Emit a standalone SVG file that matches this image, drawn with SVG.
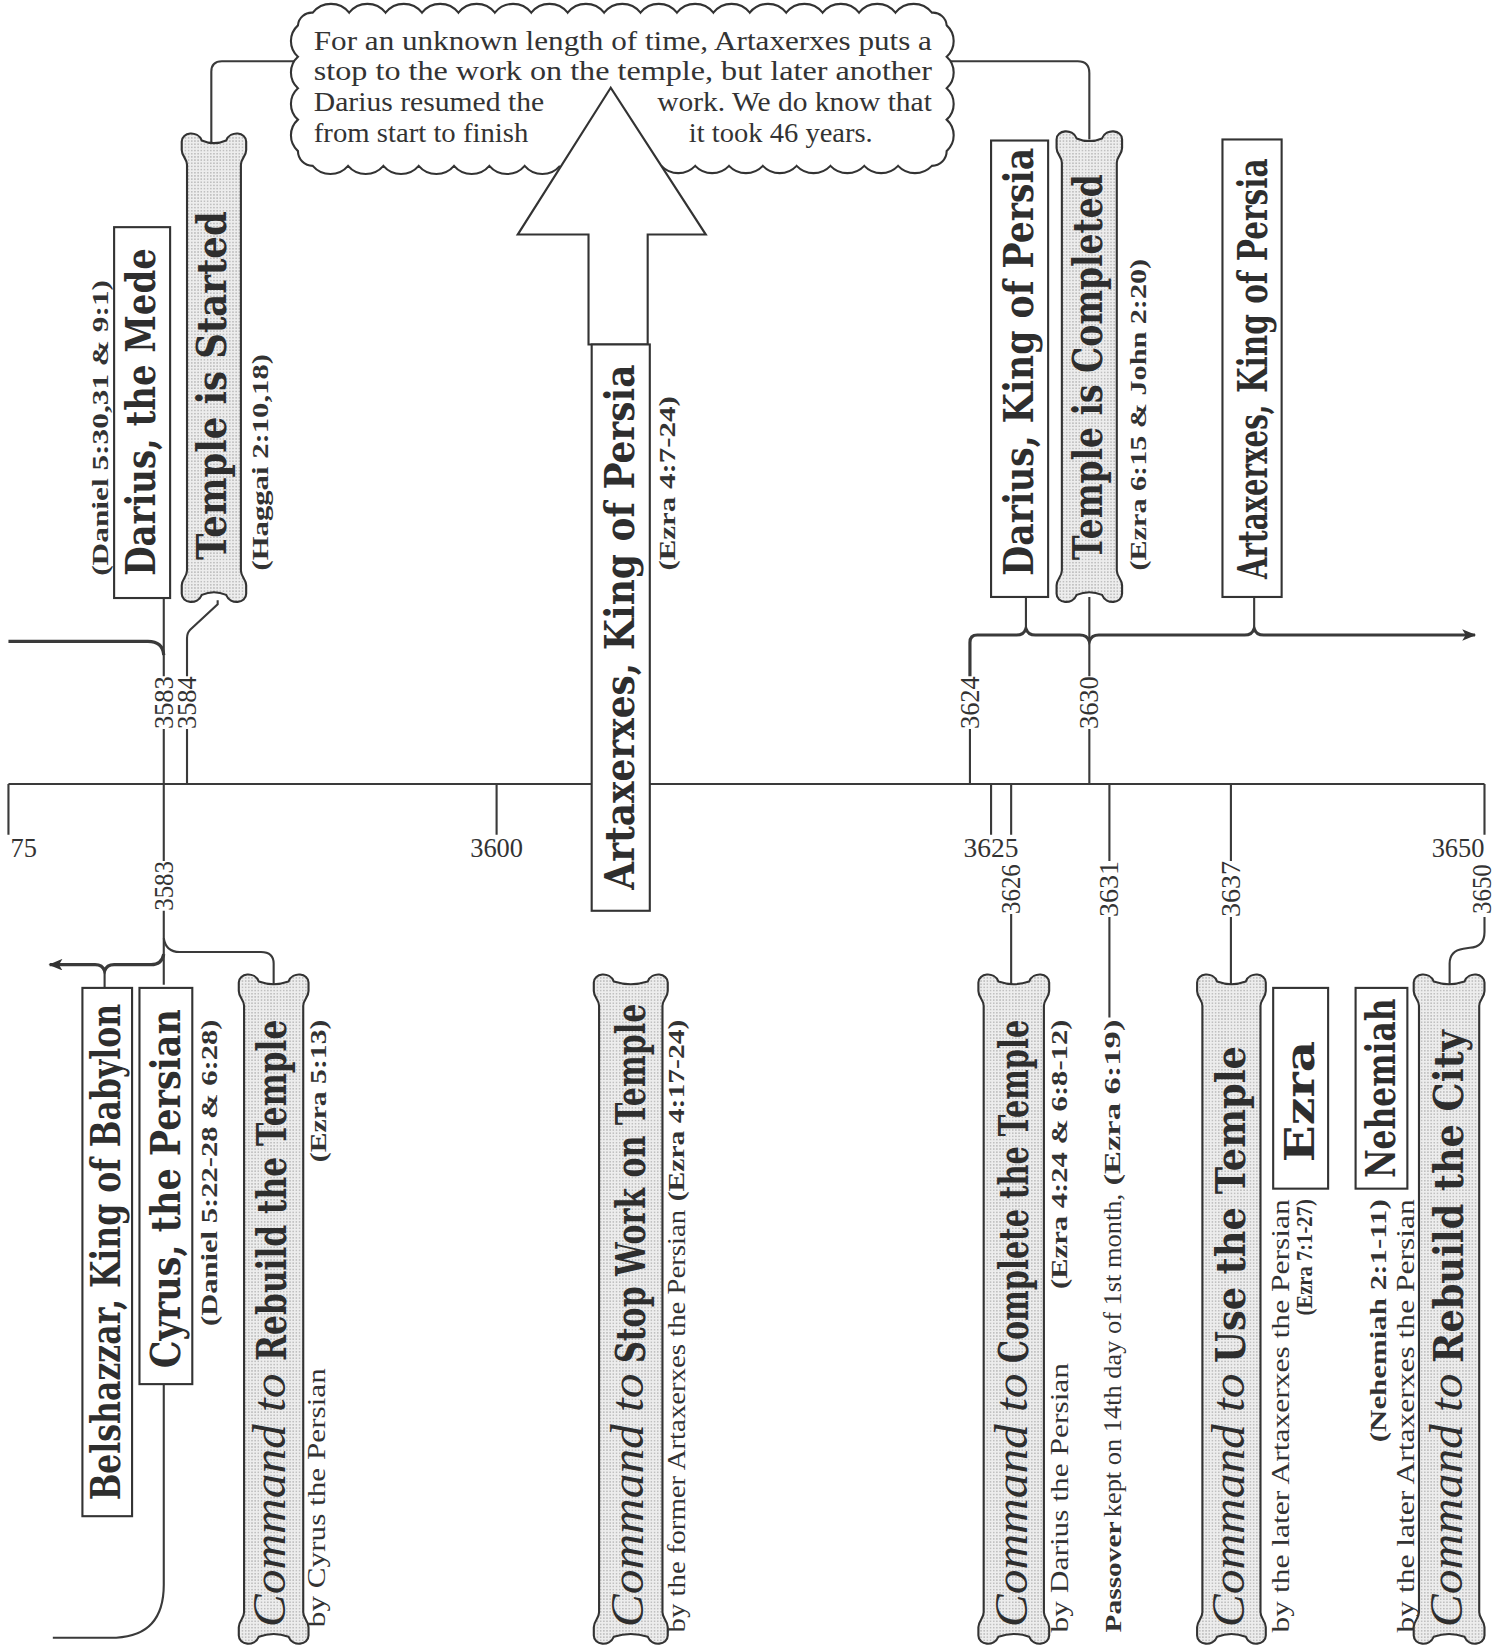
<svg xmlns="http://www.w3.org/2000/svg" width="1494" height="1648" viewBox="0 0 1494 1648">
<defs>
<pattern id="dots" width="3" height="3" patternUnits="userSpaceOnUse"><rect width="3" height="3" fill="#ededed"/><rect x="1" y="1" width="1" height="1" fill="#8a8a8a"/></pattern>
<marker id="ah" viewBox="0 0 12 10" refX="11" refY="5" markerWidth="14" markerHeight="11" markerUnits="userSpaceOnUse" orient="auto-start-reverse"><path d="M0,0 L12,5 L0,10 L3,5 z" fill="#333"/></marker>
<style>
.ln{fill:none;stroke:#3a3a3a;stroke-width:2}
.thk{stroke-width:3}
.box{fill:#fff;stroke:#333;stroke-width:2}
.scr{fill:url(#dots);stroke:#333;stroke-width:2}
.h{font-family:"DejaVu Serif",serif;font-weight:bold;font-size:38px;fill:#2e2e2e}
.it{font-family:"Liberation Serif",serif;font-style:italic;font-size:44px;fill:#2e2e2e}
.ref{font-family:"Liberation Serif",serif;font-weight:bold;font-size:21px;fill:#333}
.by{font-family:"Liberation Serif",serif;font-size:23px;fill:#333}
.num{font-family:"Liberation Serif",serif;font-size:25px;fill:#333}
.cl{font-family:"Liberation Serif",serif;font-size:25px;fill:#333}
</style>
</defs>
<rect width="1494" height="1648" fill="#fff"/>
<g transform="scale(1.05658)">
<g id="connectors">
<path class="ln" d="M8 742 H1405"/>
<path class="ln" d="M8 742 V790 M470 742 V790 M938 742 V790 M1405 742 V790"/>
<path class="ln thk" d="M8 607 H140 Q154 607 155 620"/>
<path class="ln" d="M155 566 V640 M155 690 V815 M155 862 V932"/>
<path class="ln" d="M206 568 V572 L180 596 Q177 599 177 604 V640 M177 690 V742"/>
<path class="ln thk" marker-start="url(#ah)" d="M47 913 H90 Q97 913 99 919 Q101 913 108 913 H143 Q153 913 155 903"/>
<path class="ln" d="M99 919 V935"/>
<path class="ln" d="M155 888 Q157 901 170 901 H247 Q259 901 259 912 V932"/>
<path class="ln" d="M155 1310 V1500 Q155 1548 110 1550 H50"/>
<path class="ln" d="M285 58 H210 Q200 58 200 68 V135"/>
<path class="ln" d="M893 58 H1020 Q1031 58 1031 69 V132"/>
<path class="ln thk" marker-end="url(#ah)" d="M918 640 V608 Q918 601 925 601 H962 Q969 601 971 595 Q973 601 980 601 H1022 Q1029 601 1031 607 Q1033 601 1040 601 H1178 Q1185 601 1187 595 Q1189 601 1196 601 H1396"/>
<path class="ln" d="M918 690 V742 M971 566 V596 M1187 566 V596 M1031 565 V640 M1031 690 V742"/>
<path class="ln" d="M957 742 V790 M957 865 V932"/>
<path class="ln" d="M1050 742 V815 M1050 868 V963"/>
<path class="ln" d="M1165 742 V815 M1165 868 V932"/>
<path class="ln" d="M1405 868 V882 Q1405 896 1391 897 L1385 898 Q1372 900 1372 912 V932"/>
</g>
<g id="cloud">
<path fill="#fff" stroke="#333" stroke-width="2" d="M530 157 a22 22 0 0 1 -33.43 0 a22 22 0 0 1 -33.43 0 a22 22 0 0 1 -33.43 0 a22 22 0 0 1 -33.43 0 a22 22 0 0 1 -33.43 0 a22 22 0 0 1 -33.43 0 a22 22 0 0 1 -33.43 0 a14 14 0 0 1 -14 -14 a20 20 0 0 1 0 -29.75 a20 20 0 0 1 0 -29.75 a20 20 0 0 1 0 -29.75 a20 20 0 0 1 0 -29.75 a13 13 0 0 1 14 -12 a22 22 0 0 1 34.47 0 a22 22 0 0 1 34.47 0 a22 22 0 0 1 34.47 0 a22 22 0 0 1 34.47 0 a22 22 0 0 1 34.47 0 a22 22 0 0 1 34.47 0 a22 22 0 0 1 34.47 0 a22 22 0 0 1 34.47 0 a22 22 0 0 1 34.47 0 a22 22 0 0 1 34.47 0 a22 22 0 0 1 34.47 0 a22 22 0 0 1 34.47 0 a22 22 0 0 1 34.47 0 a22 22 0 0 1 34.47 0 a22 22 0 0 1 34.47 0 a22 22 0 0 1 34.47 0 a22 22 0 0 1 34.47 0 a13 13 0 0 1 14 12 a20 20 0 0 1 0 29.75 a20 20 0 0 1 0 29.75 a20 20 0 0 1 0 29.75 a20 20 0 0 1 0 29.75 a14 14 0 0 1 -14 14 a22 22 0 0 1 -32 0 a22 22 0 0 1 -32 0 a22 22 0 0 1 -32 0 a22 22 0 0 1 -32 0 a22 22 0 0 1 -32 0 a22 22 0 0 1 -32 0 a22 22 0 0 1 -32 0 a22 22 0 0 1 -32 0"/>
<path fill="#fff" stroke="#333" stroke-width="2" stroke-linejoin="miter" d="M578 83 L490 222 L557 222 L557 326 L613 326 L613 222 L668 222 Z"/>
<text class="cl" x="297" y="47" textLength="585" lengthAdjust="spacingAndGlyphs">For an unknown length of time, Artaxerxes puts a</text>
<text class="cl" x="297" y="76" textLength="585" lengthAdjust="spacingAndGlyphs">stop to the work on the temple, but later another</text>
<text class="cl" x="297" y="105" textLength="218" lengthAdjust="spacingAndGlyphs">Darius resumed the</text>
<text class="cl" x="622" y="105" textLength="260" lengthAdjust="spacingAndGlyphs">work.  We do know that</text>
<text class="cl" x="297" y="134" textLength="203" lengthAdjust="spacingAndGlyphs">from start to finish</text>
<text class="cl" x="652" y="134" textLength="174" lengthAdjust="spacingAndGlyphs">it took 46 years.</text>
</g>
<g id="axis-labels">
<text class="num" x="10" y="811" textLength="25" lengthAdjust="spacingAndGlyphs">75</text>
<text class="num" x="445" y="811" textLength="50" lengthAdjust="spacingAndGlyphs">3600</text>
<text class="num" x="912" y="811" textLength="52" lengthAdjust="spacingAndGlyphs">3625</text>
<text class="num" x="1355" y="811" textLength="50" lengthAdjust="spacingAndGlyphs">3650</text>
<text class="num" transform="translate(163.5,690) rotate(-90)" textLength="50" lengthAdjust="spacingAndGlyphs">3583</text>
<text class="num" transform="translate(185.5,690) rotate(-90)" textLength="50" lengthAdjust="spacingAndGlyphs">3584</text>
<text class="num" transform="translate(926.5,690) rotate(-90)" textLength="50" lengthAdjust="spacingAndGlyphs">3624</text>
<text class="num" transform="translate(1039.5,690) rotate(-90)" textLength="50" lengthAdjust="spacingAndGlyphs">3630</text>
<text class="num" transform="translate(163.5,862) rotate(-90)" textLength="47" lengthAdjust="spacingAndGlyphs">3583</text>
<text class="num" transform="translate(965.5,865) rotate(-90)" textLength="47" lengthAdjust="spacingAndGlyphs">3626</text>
<text class="num" transform="translate(1058.5,868) rotate(-90)" textLength="53" lengthAdjust="spacingAndGlyphs">3631</text>
<text class="num" transform="translate(1173.5,868) rotate(-90)" textLength="53" lengthAdjust="spacingAndGlyphs">3637</text>
<text class="num" transform="translate(1411,865) rotate(-90)" textLength="47" lengthAdjust="spacingAndGlyphs">3650</text>
</g>
<g id="darius-mede">
<rect class="box" x="108" y="215" width="53" height="351"/>
<text class="h" transform="translate(147,545) rotate(-90)" textLength="310" lengthAdjust="spacingAndGlyphs">Darius, the Mede</text>
<text class="ref" transform="translate(102,545) rotate(-90)" textLength="280" lengthAdjust="spacingAndGlyphs">(Daniel 5:30,31 &amp; 9:1)</text>
</g>
<g id="temple-started">
<path class="scr" d="M177,156 C177,150 172,148 172,142 L172,134 C172,125 187,123 191,133 Q202.5,138 214,133 C218,123 233,125 233,134 L233,142 C233,148 228,150 228,156 L228,540 C228,546 233,548 233,554 L233,562 C233,571 218,573 214,563 Q202.5,558 191,563 C187,573 172,571 172,562 L172,554 C172,548 177,546 177,540 Z"/>
<text class="h" transform="translate(214,530) rotate(-90)" textLength="330" lengthAdjust="spacingAndGlyphs">Temple is Started</text>
<text class="ref" transform="translate(254,540) rotate(-90)" textLength="205" lengthAdjust="spacingAndGlyphs">(Haggai 2:10,18)</text>
</g>
<g id="artaxerxes-mid">
<rect class="box" x="560" y="326" width="55" height="536"/>
<text class="h" transform="translate(600,842) rotate(-90)" textLength="497" lengthAdjust="spacingAndGlyphs">Artaxerxes, King of Persia</text>
<text class="ref" transform="translate(639,540) rotate(-90)" textLength="165" lengthAdjust="spacingAndGlyphs">(Ezra 4:7-24)</text>
</g>
<g id="darius-king">
<rect class="box" x="938" y="133" width="54" height="432"/>
<text class="h" transform="translate(978,545) rotate(-90)" textLength="405" lengthAdjust="spacingAndGlyphs">Darius, King of Persia</text>
</g>
<g id="temple-completed">
<path class="scr" d="M1005,154 C1005,148 1000,146 1000,140 L1000,132 C1000,123 1015,121 1019,131 Q1031,136 1043,131 C1047,121 1062,123 1062,132 L1062,140 C1062,146 1057,148 1057,154 L1057,540 C1057,546 1062,548 1062,554 L1062,562 C1062,571 1047,573 1043,563 Q1031,558 1019,563 C1015,573 1000,571 1000,562 L1000,554 C1000,548 1005,546 1005,540 Z"/>
<text class="h" transform="translate(1043,530) rotate(-90)" textLength="365" lengthAdjust="spacingAndGlyphs">Temple is Completed</text>
<text class="ref" transform="translate(1085,540) rotate(-90)" textLength="295" lengthAdjust="spacingAndGlyphs">(Ezra 6:15 &amp; John 2:20)</text>
</g>
<g id="artaxerxes-right">
<rect class="box" x="1157" y="132" width="56" height="433"/>
<text class="h" font-size="32" transform="translate(1199,548) rotate(-90)" textLength="165" lengthAdjust="spacingAndGlyphs">Artaxerxes,</text>
<text class="h" font-size="32" transform="translate(1199,372) rotate(-90)" textLength="222" lengthAdjust="spacingAndGlyphs">King of Persia</text>
</g>
<g id="belshazzar">
<rect class="box" x="78" y="935" width="47" height="500"/>
<text class="h" transform="translate(114,1420) rotate(-90)" textLength="470" lengthAdjust="spacingAndGlyphs">Belshazzar, King of Babylon</text>
</g>
<g id="cyrus">
<rect class="box" x="132" y="935" width="50" height="375"/>
<text class="h" transform="translate(170,1295) rotate(-90)" textLength="340" lengthAdjust="spacingAndGlyphs">Cyrus, the Persian</text>
<text class="ref" transform="translate(205,1255) rotate(-90)" textLength="290" lengthAdjust="spacingAndGlyphs">(Daniel 5:22-28 &amp; 6:28)</text>
</g>
<g id="cmd-rebuild-temple">
<path class="scr" d="M231,952 C231,946 226,944 226,938 L226,930 C226,921 241,919 245,929 Q259,934 273,929 C277,919 292,921 292,930 L292,938 C292,944 287,946 287,952 L287,1526 C287,1532 292,1534 292,1540 L292,1548 C292,1557 277,1559 273,1549 Q259,1544 245,1549 C241,1559 226,1557 226,1548 L226,1540 C226,1534 231,1532 231,1526 Z"/>
<text class="it" transform="translate(270,1540) rotate(-90)" textLength="240" lengthAdjust="spacingAndGlyphs">Command to</text>
<text class="h" transform="translate(271,1288) rotate(-90)" textLength="323" lengthAdjust="spacingAndGlyphs">Rebuild the Temple</text>
<text class="ref" transform="translate(309,1100) rotate(-90)" textLength="135" lengthAdjust="spacingAndGlyphs">(Ezra 5:13)</text>
<text class="by" transform="translate(308,1540) rotate(-90)" textLength="245" lengthAdjust="spacingAndGlyphs">by Cyrus the Persian</text>
</g>
<g id="cmd-stop-work">
<path class="scr" d="M567,952 C567,946 562,944 562,938 L562,930 C562,921 577,919 581,929 Q597,934 613,929 C617,919 632,921 632,930 L632,938 C632,944 627,946 627,952 L627,1526 C627,1532 632,1534 632,1540 L632,1548 C632,1557 617,1559 613,1549 Q597,1544 581,1549 C577,1559 562,1557 562,1548 L562,1540 C562,1534 567,1532 567,1526 Z"/>
<text class="it" transform="translate(609,1540) rotate(-90)" textLength="240" lengthAdjust="spacingAndGlyphs">Command to</text>
<text class="h" transform="translate(610,1290) rotate(-90)" textLength="340" lengthAdjust="spacingAndGlyphs">Stop Work on Temple</text>
<text class="by" transform="translate(648,1545) rotate(-90)" textLength="400" lengthAdjust="spacingAndGlyphs">by the former Artaxerxes the Persian</text>
<text class="ref" transform="translate(647,1137) rotate(-90)" textLength="172" lengthAdjust="spacingAndGlyphs">(Ezra 4:17-24)</text>
</g>
<g id="cmd-complete">
<path class="scr" d="M931,952 C931,946 926,944 926,938 L926,930 C926,921 941,919 945,929 Q959.5,934 974,929 C978,919 993,921 993,930 L993,938 C993,944 988,946 988,952 L988,1526 C988,1532 993,1534 993,1540 L993,1548 C993,1557 978,1559 974,1549 Q959.5,1544 945,1549 C941,1559 926,1557 926,1548 L926,1540 C926,1534 931,1532 931,1526 Z"/>
<text class="it" transform="translate(972,1540) rotate(-90)" textLength="240" lengthAdjust="spacingAndGlyphs">Command to</text>
<text class="h" transform="translate(973,1290) rotate(-90)" textLength="325" lengthAdjust="spacingAndGlyphs">Complete the Temple</text>
<text class="ref" transform="translate(1010,1220) rotate(-90)" textLength="255" lengthAdjust="spacingAndGlyphs">(Ezra 4:24 &amp; 6:8-12)</text>
<text class="by" transform="translate(1011,1545) rotate(-90)" textLength="255" lengthAdjust="spacingAndGlyphs">by Darius the Persian</text>
</g>
<g id="passover">
<text class="ref" font-size="23" transform="translate(1061,1545) rotate(-90)" textLength="105" lengthAdjust="spacingAndGlyphs">Passover</text>
<text class="by" transform="translate(1061,1436) rotate(-90)" textLength="306" lengthAdjust="spacingAndGlyphs">kept on 14th day of 1st month,</text>
<text class="ref" transform="translate(1060,1122) rotate(-90)" textLength="157" lengthAdjust="spacingAndGlyphs">(Ezra 6:19)</text>
</g>
<g id="cmd-use-temple">
<path class="scr" d="M1138,952 C1138,946 1133,944 1133,938 L1133,930 C1133,921 1148,919 1152,929 Q1165.5,934 1179,929 C1183,919 1198,921 1198,930 L1198,938 C1198,944 1193,946 1193,952 L1193,1526 C1193,1532 1198,1534 1198,1540 L1198,1548 C1198,1557 1183,1559 1179,1549 Q1165.5,1544 1152,1549 C1148,1559 1133,1557 1133,1548 L1133,1540 C1133,1534 1138,1532 1138,1526 Z"/>
<text class="it" transform="translate(1177,1540) rotate(-90)" textLength="240" lengthAdjust="spacingAndGlyphs">Command to</text>
<text class="h" transform="translate(1178,1290) rotate(-90)" textLength="300" lengthAdjust="spacingAndGlyphs">Use the Temple</text>
<text class="by" transform="translate(1220,1545) rotate(-90)" textLength="410" lengthAdjust="spacingAndGlyphs">by the later  Artaxerxes the Persian</text>
<text class="ref" transform="translate(1242,1245) rotate(-90)" textLength="110" lengthAdjust="spacingAndGlyphs">(Ezra 7:1-27)</text>
</g>
<g id="ezra">
<rect class="box" x="1205" y="935" width="52" height="190"/>
<text class="h" transform="translate(1244,1100) rotate(-90)" textLength="115" lengthAdjust="spacingAndGlyphs">Ezra</text>
</g>
<g id="nehemiah">
<rect class="box" x="1283" y="935" width="49" height="190"/>
<text class="h" transform="translate(1320,1115) rotate(-90)" textLength="170" lengthAdjust="spacingAndGlyphs">Nehemiah</text>
<text class="ref" transform="translate(1312,1365) rotate(-90)" textLength="230" lengthAdjust="spacingAndGlyphs">(Nehemiah 2:1-11)</text>
<text class="by" transform="translate(1338,1545) rotate(-90)" textLength="410" lengthAdjust="spacingAndGlyphs">by the later  Artaxerxes the Persian</text>
</g>
<g id="cmd-rebuild-city">
<path class="scr" d="M1343,952 C1343,946 1338,944 1338,938 L1338,930 C1338,921 1353,919 1357,929 Q1371.5,934 1386,929 C1390,919 1405,921 1405,930 L1405,938 C1405,944 1400,946 1400,952 L1400,1526 C1400,1532 1405,1534 1405,1540 L1405,1548 C1405,1557 1390,1559 1386,1549 Q1371.5,1544 1357,1549 C1353,1559 1338,1557 1338,1548 L1338,1540 C1338,1534 1343,1532 1343,1526 Z"/>
<text class="it" transform="translate(1384,1540) rotate(-90)" textLength="240" lengthAdjust="spacingAndGlyphs">Command to</text>
<text class="h" transform="translate(1385,1290) rotate(-90)" textLength="315" lengthAdjust="spacingAndGlyphs">Rebuild the City</text>
</g>
</g>
</svg>
